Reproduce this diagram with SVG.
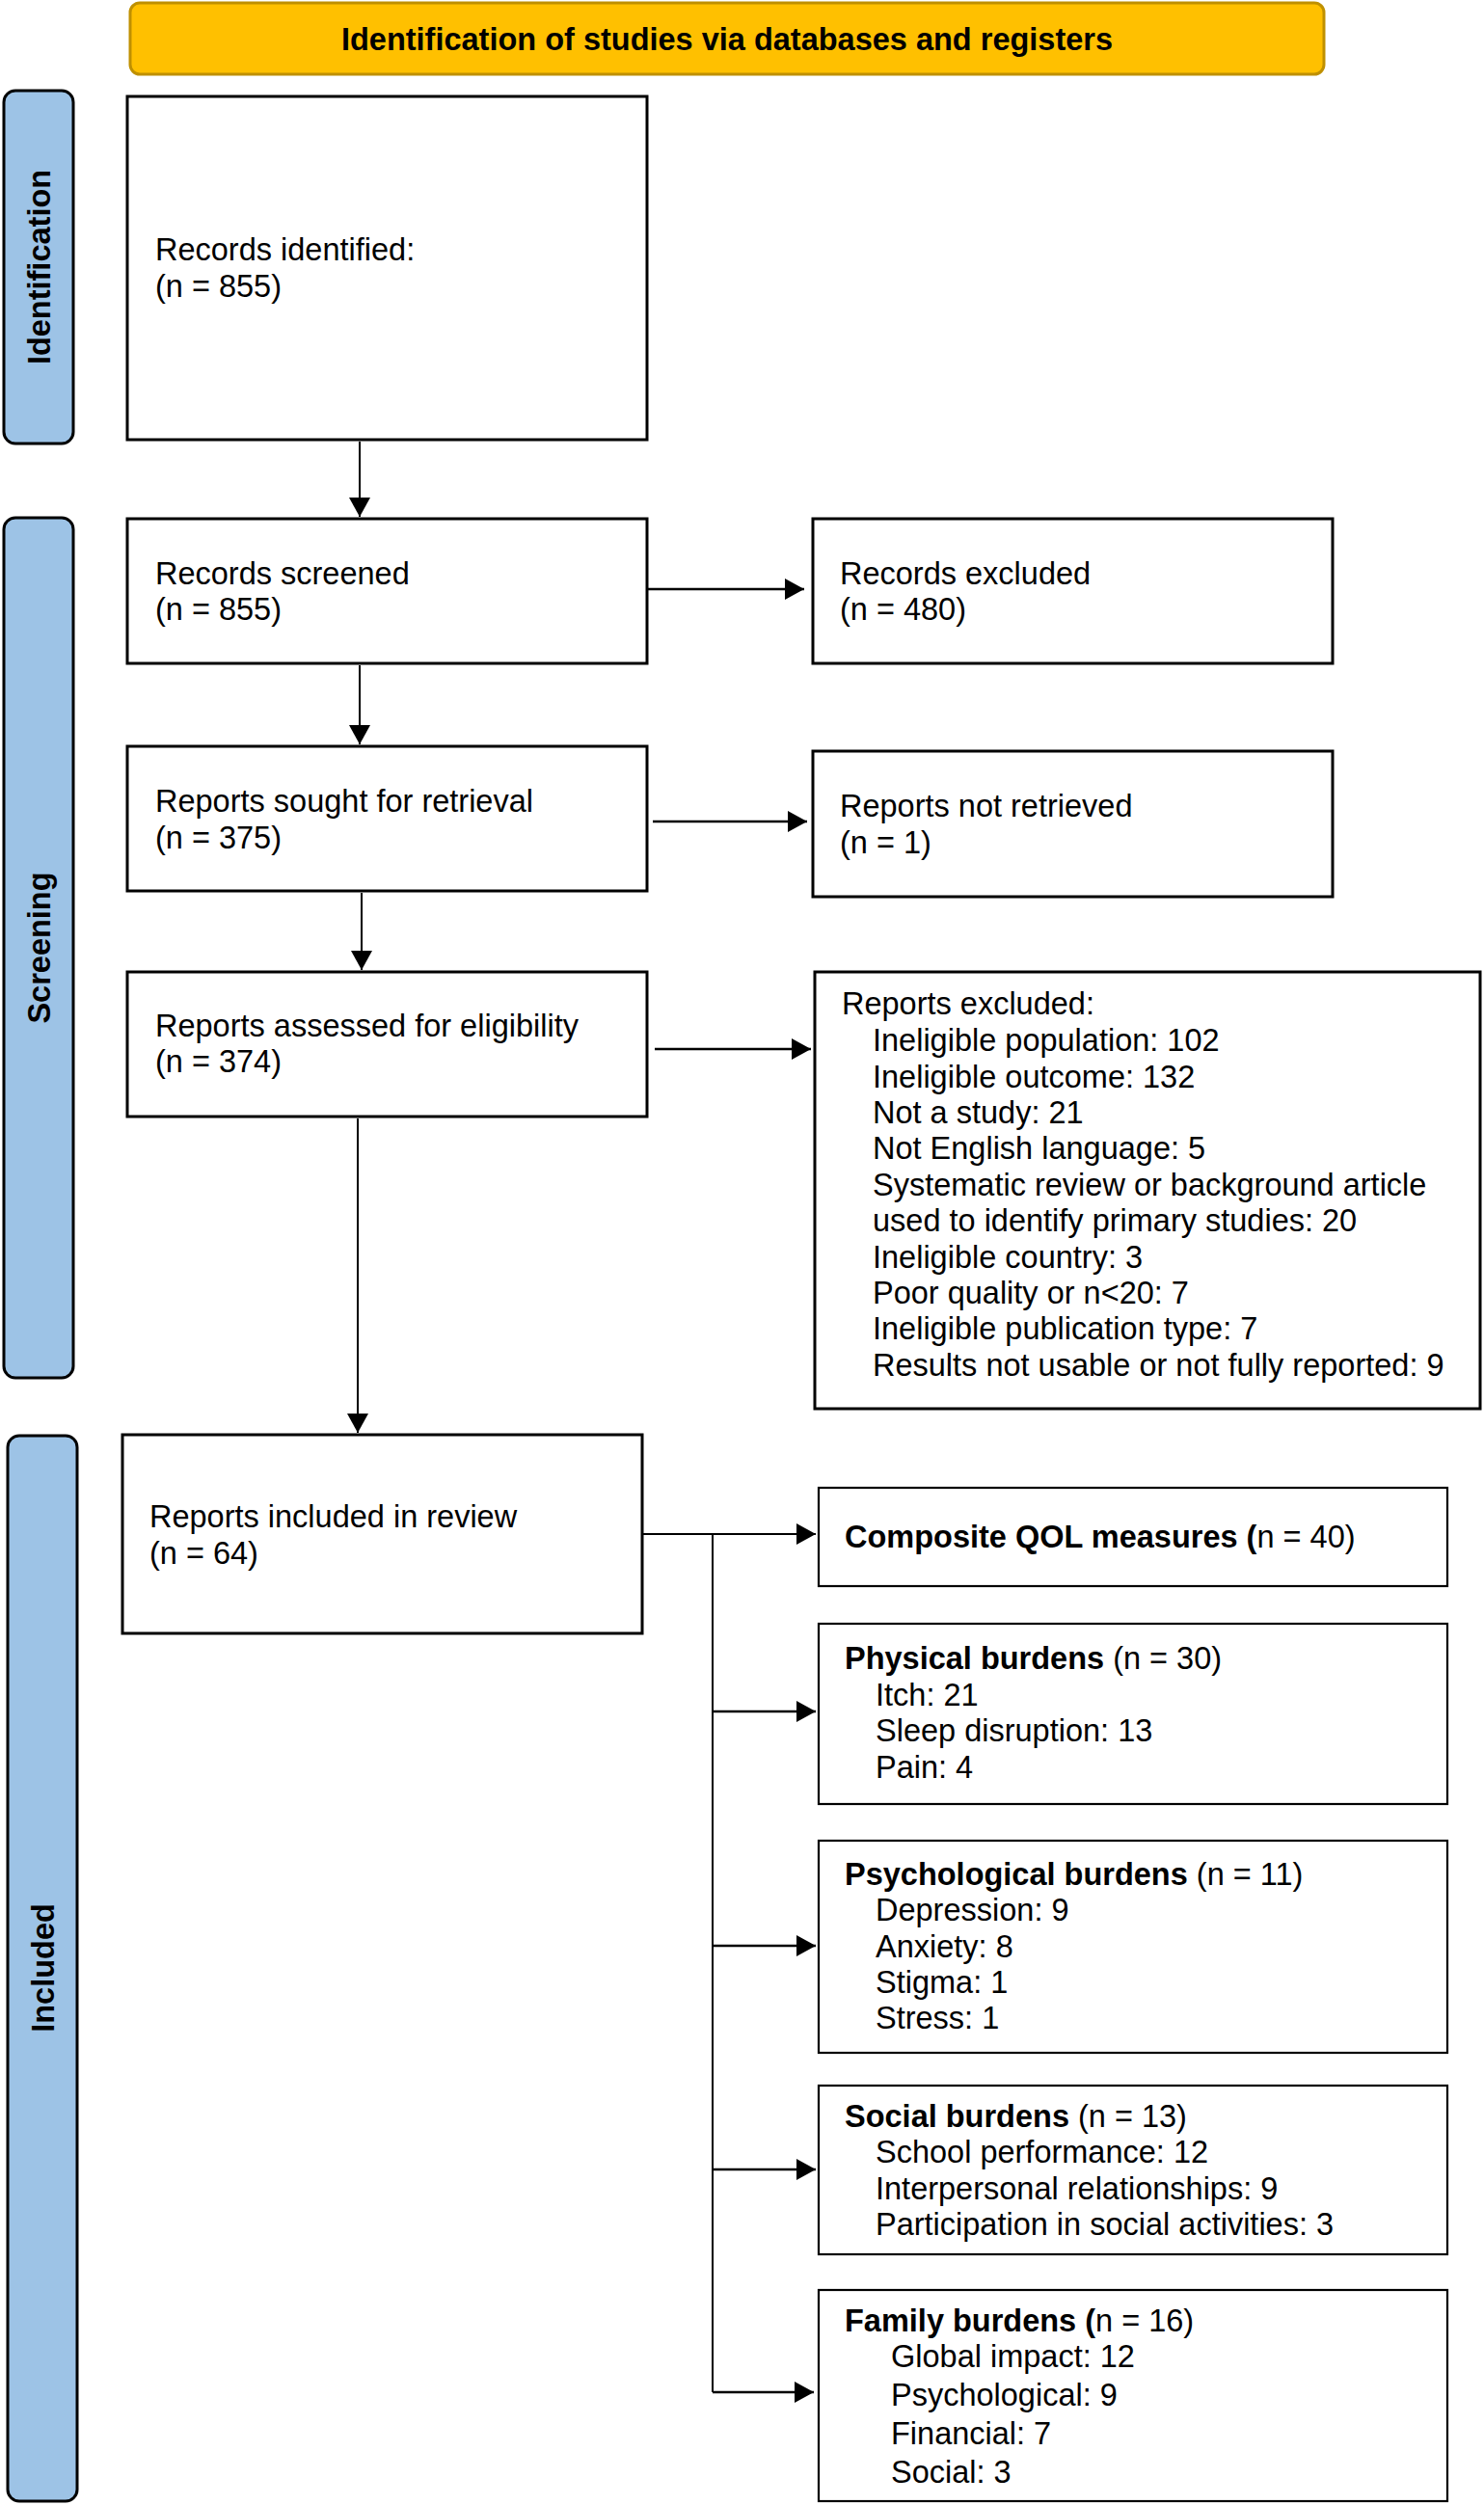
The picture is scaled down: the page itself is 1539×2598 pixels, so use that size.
<svg xmlns="http://www.w3.org/2000/svg" width="1539" height="2598" viewBox="0 0 1539 2598">
<style>
text{font-family:"Liberation Sans",Arial,sans-serif;font-size:32.5px;fill:#000}
.b{font-weight:bold}
.box{fill:#fff;stroke:#000;stroke-width:3}
.rbox{fill:#fff;stroke:#000;stroke-width:2.2}
.side{fill:#9DC3E6;stroke:#000;stroke-width:3}
.con{stroke:#000;stroke-width:2;fill:none}
.hcon{stroke:#000;stroke-width:2.5;fill:none}
</style>
<defs>
<marker id="ah" markerUnits="userSpaceOnUse" markerWidth="22" markerHeight="22" refX="20" refY="11" orient="auto" viewBox="0 0 22 22">
<path d="M0,0 L20,11 L0,22 z" fill="#000"/>
</marker>
</defs>
<g id="header">
<rect x="135" y="3" width="1238" height="74" rx="10" fill="#FFC000" stroke="#BF9000" stroke-width="3"/>
<text class="b" x="754" y="52" text-anchor="middle">Identification of studies via databases and registers</text>
</g>
<g id="side-identification">
<rect x="4" y="94" width="72" height="366" rx="12" class="side"/>
<text class="b" transform="translate(52,277) rotate(-90)" text-anchor="middle">Identification</text>
</g>
<g id="side-screening">
<rect x="4" y="537" width="72" height="892" rx="12" class="side"/>
<text class="b" transform="translate(52,983) rotate(-90)" text-anchor="middle">Screening</text>
</g>
<g id="side-included">
<rect x="8" y="1489" width="72" height="1105" rx="12" class="side"/>
<text class="b" transform="translate(56,2041) rotate(-90)" text-anchor="middle">Included</text>
</g>
<g id="records-identified">
<rect x="132" y="100" width="539" height="356" class="box"/>
<text x="161" y="270">Records identified:</text>
<text x="161" y="308">(n = 855)</text>
</g>
<g id="records-screened">
<rect x="132" y="538" width="539" height="150" class="box"/>
<text x="161" y="606">Records screened</text>
<text x="161" y="643">(n = 855)</text>
</g>
<g id="records-excluded">
<rect x="843" y="538" width="539" height="150" class="box"/>
<text x="871" y="606">Records excluded</text>
<text x="871" y="643">(n = 480)</text>
</g>
<g id="reports-sought">
<rect x="132" y="774" width="539" height="150" class="box"/>
<text x="161" y="842">Reports sought for retrieval</text>
<text x="161" y="880">(n = 375)</text>
</g>
<g id="reports-not-retrieved">
<rect x="843" y="779" width="539" height="151" class="box"/>
<text x="871" y="847">Reports not retrieved</text>
<text x="871" y="885">(n = 1)</text>
</g>
<g id="reports-assessed">
<rect x="132" y="1008" width="539" height="150" class="box"/>
<text x="161" y="1075">Reports assessed for eligibility</text>
<text x="161" y="1112">(n = 374)</text>
</g>
<g id="reports-excluded">
<rect x="845" y="1008" width="690" height="453" class="box"/>
<text x="873" y="1052">Reports excluded:</text>
<text x="905" y="1090">Ineligible population: 102</text>
<text x="905" y="1128">Ineligible outcome: 132</text>
<text x="905" y="1165">Not a study: 21</text>
<text x="905" y="1202">Not English language: 5</text>
<text x="905" y="1240">Systematic review or background article</text>
<text x="905" y="1277">used to identify primary studies: 20</text>
<text x="905" y="1315">Ineligible country: 3</text>
<text x="905" y="1352">Poor quality or n&lt;20: 7</text>
<text x="905" y="1389">Ineligible publication type: 7</text>
<text x="905" y="1427">Results not usable or not fully reported: 9</text>
</g>
<g id="reports-included">
<rect x="127" y="1488" width="539" height="206" class="box"/>
<text x="155" y="1584">Reports included in review</text>
<text x="155" y="1622">(n = 64)</text>
</g>
<g id="composite">
<rect x="849" y="1543" width="652" height="102" class="rbox"/>
<text x="876" y="1605"><tspan class="b">Composite QOL measures (</tspan>n = 40)</text>
</g>
<g id="physical">
<rect x="849" y="1684" width="652" height="187" class="rbox"/>
<text x="876" y="1731"><tspan class="b">Physical burdens</tspan> (n = 30)</text>
<text x="908" y="1769">Itch: 21</text>
<text x="908" y="1806">Sleep disruption: 13</text>
<text x="908" y="1844">Pain: 4</text>
</g>
<g id="psychological">
<rect x="849" y="1909" width="652" height="220" class="rbox"/>
<text x="876" y="1955"><tspan class="b">Psychological burdens</tspan> (n = 11)</text>
<text x="908" y="1992">Depression: 9</text>
<text x="908" y="2030">Anxiety: 8</text>
<text x="908" y="2067">Stigma: 1</text>
<text x="908" y="2104">Stress: 1</text>
</g>
<g id="social">
<rect x="849" y="2163" width="652" height="175" class="rbox"/>
<text x="876" y="2206"><tspan class="b">Social burdens</tspan> (n = 13)</text>
<text x="908" y="2243">School performance: 12</text>
<text x="908" y="2281">Interpersonal relationships: 9</text>
<text x="908" y="2318">Participation in social activities: 3</text>
</g>
<g id="family">
<rect x="849" y="2375" width="652" height="219" class="rbox"/>
<text x="876" y="2418"><tspan class="b">Family burdens (</tspan>n = 16)</text>
<text x="924" y="2455">Global impact: 12</text>
<text x="924" y="2495">Psychological: 9</text>
<text x="924" y="2535">Financial: 7</text>
<text x="924" y="2575">Social: 3</text>
</g>
<g id="connectors">
<line x1="373" y1="458" x2="373" y2="536" class="con" marker-end="url(#ah)"/>
<line x1="672" y1="611" x2="834" y2="611" class="hcon" marker-end="url(#ah)"/>
<line x1="373" y1="690" x2="373" y2="772" class="con" marker-end="url(#ah)"/>
<line x1="677" y1="852" x2="837" y2="852" class="hcon" marker-end="url(#ah)"/>
<line x1="375" y1="926" x2="375" y2="1006" class="con" marker-end="url(#ah)"/>
<line x1="679" y1="1088" x2="841" y2="1088" class="hcon" marker-end="url(#ah)"/>
<line x1="371" y1="1160" x2="371" y2="1486" class="con" marker-end="url(#ah)"/>
<line x1="667" y1="1591" x2="846" y2="1591" class="con" marker-end="url(#ah)"/>
<polyline points="739,1591 739,2481" class="con"/>
<line x1="739" y1="1775" x2="846" y2="1775" class="hcon" marker-end="url(#ah)"/>
<line x1="739" y1="2018" x2="846" y2="2018" class="hcon" marker-end="url(#ah)"/>
<line x1="739" y1="2250" x2="846" y2="2250" class="hcon" marker-end="url(#ah)"/>
<line x1="739" y1="2481" x2="844" y2="2481" class="hcon" marker-end="url(#ah)"/>
</g>
</svg>
